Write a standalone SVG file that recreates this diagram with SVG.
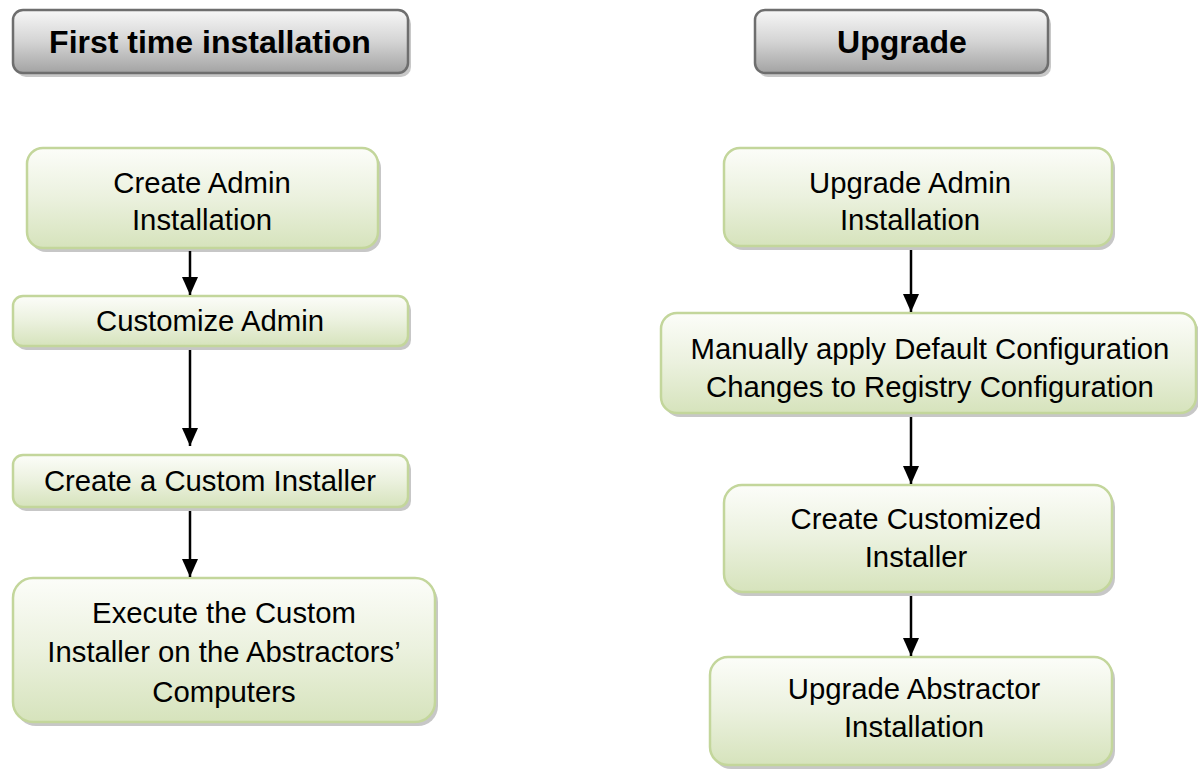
<svg xmlns="http://www.w3.org/2000/svg" width="1198" height="770" viewBox="0 0 1198 770">
<style>
  .hdr { fill: url(#gGray); stroke: #6e6e6e; stroke-width: 2.5; }
  .hsh { fill: #9a9a9a; opacity: 0.55; }
  .box { fill: url(#gGreen); stroke: #c3d69b; stroke-width: 2.5; }
  .sh { fill: #8f8f8f; opacity: 0.5; }
  .ht { font-family: "Liberation Sans", Arial, sans-serif; font-weight: bold; font-size: 32px; fill: #000; text-anchor: middle; }
  .t { font-family: "Liberation Sans", Arial, sans-serif; font-size: 29.3px; fill: #000; text-anchor: middle; }
  .conn { stroke: #000; stroke-width: 2.5; fill: none; marker-end: url(#arr); }
</style>
<defs>
  <linearGradient id="gGray" x1="0" y1="0" x2="0" y2="1">
    <stop offset="0" stop-color="#f7f7f7"/>
    <stop offset="0.5" stop-color="#d4d4d4"/>
    <stop offset="1" stop-color="#a3a3a3"/>
  </linearGradient>
  <linearGradient id="gGreen" x1="0" y1="0" x2="0" y2="1">
    <stop offset="0" stop-color="#fcfdf9"/>
    <stop offset="0.5" stop-color="#ebf1de"/>
    <stop offset="1" stop-color="#d6e3bc"/>
  </linearGradient>
  <marker id="arr" markerUnits="userSpaceOnUse" markerWidth="18" markerHeight="16" refX="18" refY="8" orient="auto" viewBox="0 0 18 16">
    <path d="M0,0 L18,8 L0,16 Z" fill="#000"/>
  </marker>
</defs>

<g id="header-first">
  <rect class="hsh" x="16" y="14" width="395" height="63" rx="10"/>
  <rect class="hdr" x="13" y="10" width="395" height="63" rx="10"/>
  <text class="ht" x="210" y="53">First time installation</text>
</g>
<g id="header-upgrade">
  <rect class="hsh" x="758" y="14" width="293" height="63" rx="10"/>
  <rect class="hdr" x="755" y="10" width="293" height="63" rx="10"/>
  <text class="ht" x="902" y="53">Upgrade</text>
</g>

<g id="n-create-admin">
  <rect class="sh" x="30" y="152" width="351" height="100" rx="16"/>
  <rect class="box" x="27" y="148" width="351" height="100" rx="16"/>
  <text class="t" x="202" y="193">Create Admin</text>
  <text class="t" x="202" y="230">Installation</text>
</g>
<g id="n-customize-admin">
  <rect class="sh" x="16" y="300" width="395" height="50" rx="10"/>
  <rect class="box" x="13" y="296" width="395" height="50" rx="10"/>
  <text class="t" x="210" y="331">Customize Admin</text>
</g>
<g id="n-custom-installer">
  <rect class="sh" x="16" y="459" width="395" height="52" rx="10"/>
  <rect class="box" x="13" y="455" width="395" height="52" rx="10"/>
  <text class="t" x="210" y="491">Create a Custom Installer</text>
</g>
<g id="n-execute">
  <rect class="sh" x="16" y="582" width="422" height="144" rx="20"/>
  <rect class="box" x="13" y="578" width="422" height="144" rx="20"/>
  <text class="t" x="224" y="623">Execute the Custom</text>
  <text class="t" x="224" y="662">Installer on the Abstractors’</text>
  <text class="t" x="224" y="702">Computers</text>
</g>

<g id="n-upgrade-admin">
  <rect class="sh" x="727" y="152" width="388" height="98" rx="16"/>
  <rect class="box" x="724" y="148" width="388" height="98" rx="16"/>
  <text class="t" x="910" y="193">Upgrade Admin</text>
  <text class="t" x="910" y="230">Installation</text>
</g>
<g id="n-manually-apply">
  <rect class="sh" x="664" y="317" width="535" height="100" rx="16"/>
  <rect class="box" x="661" y="313" width="535" height="100" rx="16"/>
  <text class="t" x="930" y="359">Manually apply Default Configuration</text>
  <text class="t" x="930" y="397">Changes to Registry Configuration</text>
</g>
<g id="n-customized-installer">
  <rect class="sh" x="727" y="489" width="388" height="107" rx="18"/>
  <rect class="box" x="724" y="485" width="388" height="107" rx="18"/>
  <text class="t" x="916" y="529">Create Customized</text>
  <text class="t" x="916" y="567">Installer</text>
</g>
<g id="n-upgrade-abstractor">
  <rect class="sh" x="713" y="661" width="402" height="108" rx="18"/>
  <rect class="box" x="710" y="657" width="402" height="108" rx="18"/>
  <text class="t" x="914" y="699">Upgrade Abstractor</text>
  <text class="t" x="914" y="737">Installation</text>
</g>

<g id="connectors">
  <line class="conn" x1="190" y1="251" x2="190" y2="295"/>
  <line class="conn" x1="190" y1="350" x2="190" y2="446"/>
  <line class="conn" x1="190" y1="511" x2="190" y2="577"/>
  <line class="conn" x1="911" y1="250" x2="911" y2="312"/>
  <line class="conn" x1="911" y1="417" x2="911" y2="484"/>
  <line class="conn" x1="911" y1="596" x2="911" y2="656"/>
</g>
</svg>
